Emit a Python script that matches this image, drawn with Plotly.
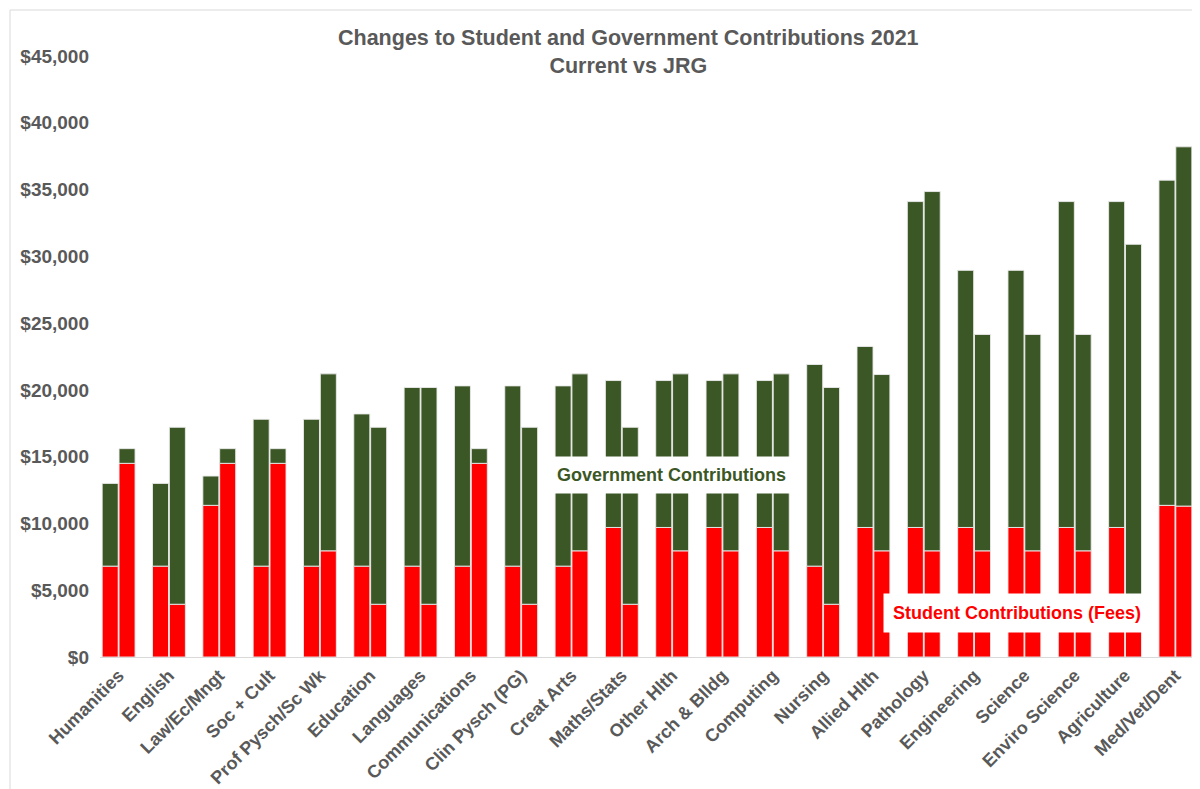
import plotly.graph_objects as go

categories = ["Humanities", "English", "Law/Ec/Mngt", "Soc + Cult", "Prof Pysch/Sc Wk",
              "Education", "Languages", "Communications", "Clin Pysch (PG)", "Creat Arts",
              "Maths/Stats", "Other Hlth", "Arch & Blldg", "Computing", "Nursing",
              "Allied Hlth", "Pathology", "Engineering", "Science", "Enviro Science",
              "Agriculture", "Med/Vet/Dent"]

current_student = [6804, 6804, 11355, 6804, 6804, 6804, 6804, 6804, 6804, 6804,
                   9698, 9698, 9698, 9698, 6804, 9698, 9698, 9698, 9698, 9698,
                   9698, 11355]
current_total = [13000, 13000, 13550, 17800, 17800, 18200, 20180, 20300, 20300, 20300,
                 20700, 20700, 20700, 20700, 21900, 23250, 34100, 28950, 28950, 34100,
                 34100, 35700]
jrg_student = [14500, 3950, 14500, 14500, 7950, 3950, 3950, 14500, 3950, 7950,
               3950, 7950, 7950, 7950, 3950, 7950, 7950, 7950, 7950, 7950,
               3950, 11300]
jrg_total = [15600, 17200, 15600, 15600, 21200, 17200, 20180, 15600, 17200, 21200,
             17200, 21200, 21200, 21200, 20180, 21150, 34850, 24150, 24150, 24150,
             30900, 38200]

current_gov = [t - s for t, s in zip(current_total, current_student)]
jrg_gov = [t - s for t, s in zip(jrg_total, jrg_student)]

RED = "#ff0000"
GREEN = "#3c5726"
LINE = dict(color="rgba(235,235,235,0.9)", width=1)
FONT = "Liberation Sans, Arial, sans-serif"

fig = go.Figure()
fig.add_trace(go.Bar(x=categories, y=current_student, offsetgroup="cur", name="Student (Current)",
                     marker=dict(color=RED, line=LINE)))
fig.add_trace(go.Bar(x=categories, y=current_gov, base=current_student, offsetgroup="cur",
                     name="Government (Current)", marker=dict(color=GREEN, line=LINE)))
fig.add_trace(go.Bar(x=categories, y=jrg_student, offsetgroup="jrg", name="Student (JRG)",
                     marker=dict(color=RED, line=LINE)))
fig.add_trace(go.Bar(x=categories, y=jrg_gov, base=jrg_student, offsetgroup="jrg",
                     name="Government (JRG)", marker=dict(color=GREEN, line=LINE)))

# page has an 8px body margin; figure is sized to fit inside the window
OFF = 8
W, H = 1192, 781
L, T = 100 - OFF, 56 - OFF
B = H - (657 - OFF)
R = W - (1194 - OFF)
pw = W - L - R
ph = H - T - B

def px_x(p):
    return (p - OFF - L) / pw

def px_y(p):
    return (H - B - (p - OFF)) / ph

fig.update_layout(
    width=W, height=H,
    barmode="group", bargap=0.33, bargroupgap=0.05,
    showlegend=False,
    plot_bgcolor="white", paper_bgcolor="white",
    margin=dict(l=L, r=R, t=T, b=B),
    font=dict(family=FONT, color="#595959"),
    xaxis=dict(range=[-0.37, 21.37], tickangle=-45, showgrid=False, automargin=False,
               showline=True, linecolor="#d9d9d9", linewidth=1, ticks="",
               tickfont=dict(size=18, family=FONT, color="#595959", weight="bold")),
    yaxis=dict(range=[0, 45000], dtick=5000, tickprefix="$", tickformat=",d",
               showgrid=False, zeroline=False, showline=False, ticks="", automargin=False,
               ticklabelstandoff=10,
               tickfont=dict(size=19, family=FONT, color="#595959", weight="bold")),
    annotations=[
        dict(text="<b>Changes to Student and Government Contributions 2021</b><br><b>Current vs JRG</b>",
             xref="paper", yref="paper", x=px_x(628), y=px_y(24), xanchor="center", yanchor="top",
             showarrow=False, font=dict(size=21.5, color="#595959")),
        dict(text="<b>Government Contributions</b>", x=10.98, y=13600, xref="x", yref="y",
             showarrow=False, bgcolor="white", borderpad=8,
             font=dict(size=18, color="#3c5726")),
        dict(text="<b>Student Contributions (Fees)</b>", x=17.85, y=3300, xref="x", yref="y",
             showarrow=False, bgcolor="white", borderpad=9,
             font=dict(size=18, color=RED)),
    ],
    shapes=[
        dict(type="line", xref="paper", yref="paper", x0=px_x(10), x1=px_x(1200),
             y0=px_y(10), y1=px_y(10), line=dict(color="#d9d9d9", width=1)),
        dict(type="line", xref="paper", yref="paper", x0=px_x(10), x1=px_x(10),
             y0=px_y(10), y1=px_y(789), line=dict(color="#d9d9d9", width=1)),
    ],
)

fig.write_html("out.html")
